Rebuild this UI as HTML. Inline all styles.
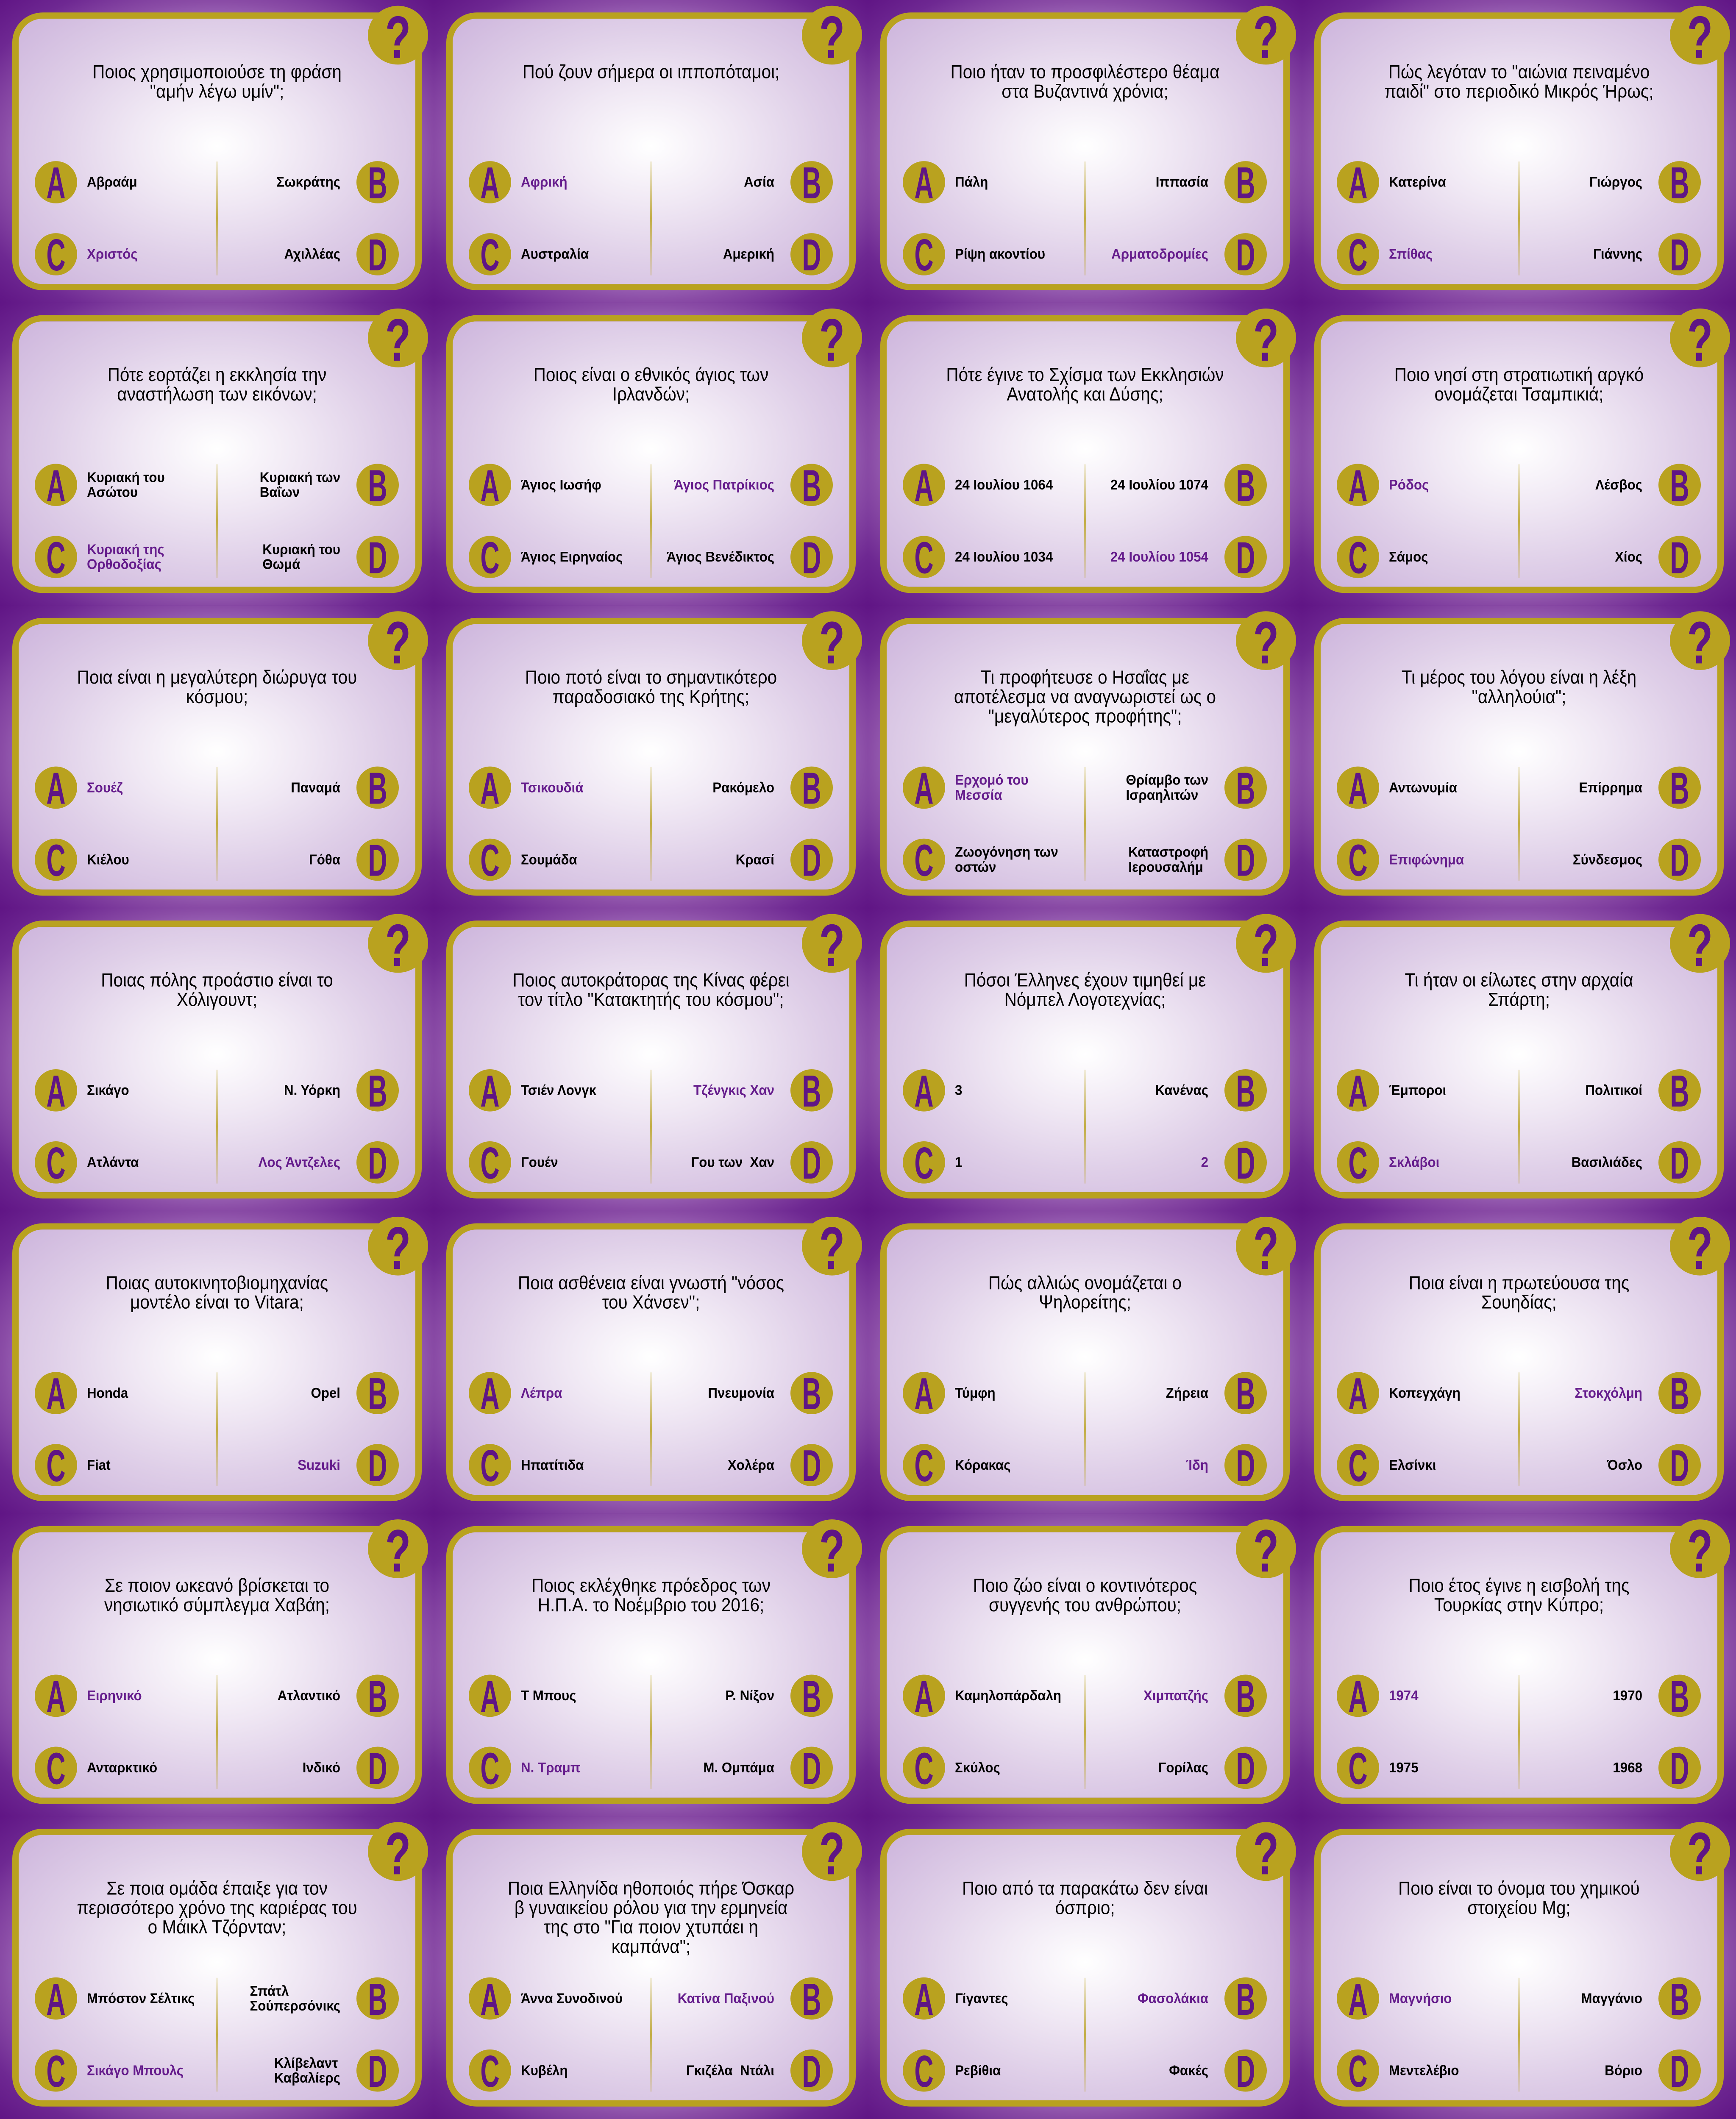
<!DOCTYPE html>
<html><head><meta charset="utf-8">
<style>
html,body{margin:0;padding:0;overflow:hidden;}
body{background:#601585;font-family:"Liberation Sans","DejaVu Sans",sans-serif;}
#stage{position:absolute;left:0;top:0;width:4096px;height:5117px;overflow:hidden;transform-origin:0 0;background:#601585;}
.cell{position:absolute;width:1024px;height:731px;overflow:hidden;
 background:radial-gradient(ellipse farthest-corner at 50% 50%,#ffffff 0%,#d9c3e4 40%,#a06cba 60%,#8a4ca6 70%,#6e2892 85%,#601585 100%);}
.card{position:absolute;left:29px;top:30px;width:936px;height:641px;border:15px solid #b9a21f;border-radius:72px;
 background:radial-gradient(ellipse farthest-corner at 50% 48%,#ffffff 0%,#f0e8f4 30%,#dfcfe8 60%,#cbb2db 100%);}
.qm{position:absolute;left:868px;top:14px;width:142px;height:142px;border-radius:50%;background:#b9a21f;}
.qm span{position:absolute;left:0;width:142px;top:6px;text-align:center;font-weight:bold;font-size:145px;line-height:140px;color:#5f1585;transform:scaleX(0.68);}
.q{position:absolute;left:112px;width:800px;top:150px;text-align:center;font-size:46px;line-height:47px;color:#000;transform:scaleX(0.88);}
.lc{position:absolute;width:100px;height:102px;border-radius:50%;background:#b9a21f;}
.lc span{position:absolute;left:0;top:0;width:100px;height:102px;line-height:106px;text-align:center;font-weight:bold;font-size:108px;color:#5f1585;transform:scaleX(0.58);}
.ans{position:absolute;width:290px;font-weight:bold;font-size:34px;line-height:36px;color:#000;display:flex;align-items:center;height:100px;}
.ans.l{left:205px;justify-content:flex-start;transform-origin:left center;transform:scaleX(0.92);}
.ans.r{left:513px;justify-content:flex-end;transform-origin:right center;transform:scaleX(0.92);}
.ans span{display:inline-block;text-align:left;white-space:pre;}
.ans.ok{color:#651c8c;}
.div{position:absolute;left:510px;top:390px;width:4px;height:275px;background:linear-gradient(to bottom,rgba(185,162,31,0.15),rgba(185,162,31,0.8) 50%,rgba(185,162,31,0.15));}
</style></head>
<body>
<div id="stage"></div>
<script>
var questions=[
"Ποιος χρησιμοποιούσε τη φράση\n\"αμήν λέγω υμίν\";",
"Πού ζουν σήμερα οι ιπποπόταμοι;",
"Ποιο ήταν το προσφιλέστερο θέαμα\nστα Βυζαντινά χρόνια;",
"Πώς λεγόταν το \"αιώνια πειναμένο\nπαιδί\" στο περιοδικό Μικρός Ήρως;",
"Πότε εορτάζει η εκκλησία την\nαναστήλωση των εικόνων;",
"Ποιος είναι ο εθνικός άγιος των\nΙρλανδών;",
"Πότε έγινε το Σχίσμα των Εκκλησιών\nΑνατολής και Δύσης;",
"Ποιο νησί στη στρατιωτική αργκό\nονομάζεται Τσαμπικιά;",
"Ποια είναι η μεγαλύτερη διώρυγα του\nκόσμου;",
"Ποιο ποτό είναι το σημαντικότερο\nπαραδοσιακό της Κρήτης;",
"Τι προφήτευσε ο Ησαΐας με\nαποτέλεσμα να αναγνωριστεί ως ο\n\"μεγαλύτερος προφήτης\";",
"Τι μέρος του λόγου είναι η λέξη\n\"αλληλούια\";",
"Ποιας πόλης προάστιο είναι το\nΧόλιγουντ;",
"Ποιος αυτοκράτορας της Κίνας φέρει\nτον τίτλο \"Κατακτητής του κόσμου\";",
"Πόσοι Έλληνες έχουν τιμηθεί με\nΝόμπελ Λογοτεχνίας;",
"Τι ήταν οι είλωτες στην αρχαία\nΣπάρτη;",
"Ποιας αυτοκινητοβιομηχανίας\nμοντέλο είναι το Vitara;",
"Ποια ασθένεια είναι γνωστή \"νόσος\nτου Χάνσεν\";",
"Πώς αλλιώς ονομάζεται ο\nΨηλορείτης;",
"Ποια είναι η πρωτεύουσα της\nΣουηδίας;",
"Σε ποιον ωκεανό βρίσκεται το\nνησιωτικό σύμπλεγμα Χαβάη;",
"Ποιος εκλέχθηκε πρόεδρος των\nΗ.Π.Α. το Νοέμβριο του 2016;",
"Ποιο ζώο είναι ο κοντινότερος\nσυγγενής του ανθρώπου;",
"Ποιο έτος έγινε η εισβολή της\nΤουρκίας στην Κύπρο;",
"Σε ποια ομάδα έπαιξε για τον\nπερισσότερο χρόνο της καριέρας του\nο Μάικλ Τζόρνταν;",
"Ποια Ελληνίδα ηθοποιός πήρε Όσκαρ\nβ γυναικείου ρόλου για την ερμηνεία\nτης στο  \"Για ποιον χτυπάει η\nκαμπάνα\";",
"Ποιο από τα παρακάτω δεν είναι\nόσπριο;",
"Ποιο είναι το όνομα του χημικού\nστοιχείου Mg;"];
var answers=[
["Αβραάμ","Σωκράτης","Χριστός","Αχιλλέας"],
["Αφρική","Ασία","Αυστραλία","Αμερική"],
["Πάλη","Ιππασία","Ρίψη ακοντίου","Αρματοδρομίες"],
["Κατερίνα","Γιώργος","Σπίθας","Γιάννης"],
["Κυριακή του\nΑσώτου","Κυριακή των\nΒαΐων","Κυριακή της\nΟρθοδοξίας","Κυριακή του\nΘωμά"],
["Άγιος Ιωσήφ","Άγιος Πατρίκιος","Άγιος Ειρηναίος","Άγιος Βενέδικτος"],
["24 Ιουλίου 1064","24 Ιουλίου 1074","24 Ιουλίου 1034","24 Ιουλίου 1054"],
["Ρόδος","Λέσβος","Σάμος","Χίος"],
["Σουέζ","Παναμά","Κιέλου","Γόθα"],
["Τσικουδιά","Ρακόμελο","Σουμάδα","Κρασί"],
["Ερχομό του\nΜεσσία","Θρίαμβο των\nΙσραηλιτών","Ζωογόνηση των\nοστών","Καταστροφή\nΙερουσαλήμ"],
["Αντωνυμία","Επίρρημα","Επιφώνημα","Σύνδεσμος"],
["Σικάγο","Ν. Υόρκη","Ατλάντα","Λος Άντζελες"],
["Τσιέν Λονγκ","Τζένγκις Χαν","Γουέν","Γου των  Χαν"],
["3","Κανένας","1","2"],
["Έμποροι","Πολιτικοί","Σκλάβοι","Βασιλιάδες"],
["Honda","Opel","Fiat","Suzuki"],
["Λέπρα","Πνευμονία","Ηπατίτιδα","Χολέρα"],
["Τύμφη","Ζήρεια","Κόρακας","Ίδη"],
["Κοπεγχάγη","Στοκχόλμη","Ελσίνκι","Όσλο"],
["Ειρηνικό","Ατλαντικό","Ανταρκτικό","Ινδικό"],
["Τ Μπους","Ρ. Νίξον","Ν. Τραμπ","Μ. Ομπάμα"],
["Καμηλοπάρδαλη","Χιμπατζής","Σκύλος","Γορίλας"],
["1974","1970","1975","1968"],
["Μπόστον Σέλτικς","Σπάτλ\nΣούπερσόνικς","Σικάγο Μπουλς","Κλίβελαντ\nΚαβαλίερς"],
["Άννα Συνοδινού","Κατίνα Παξινού","Κυβέλη","Γκιζέλα  Ντάλι"],
["Γίγαντες","Φασολάκια","Ρεβίθια","Φακές"],
["Μαγνήσιο","Μαγγάνιο","Μεντελέβιο","Βόριο"]];
var correct=[2,0,3,2, 2,1,3,0, 0,0,0,2, 3,1,3,2, 3,0,3,1, 0,2,1,0, 2,1,1,0];
var letters=["A","B","C","D"];

(function(){
  var stage=document.getElementById('stage');
  for(var i=0;i<questions.length;i++){
    var col=i%4,row=Math.floor(i/4);
    var cell=document.createElement('div');
    cell.className='cell';
    cell.style.left=(col*1024)+'px';
    cell.style.top=(row*731)+'px';
    
    
    var card=document.createElement('div');
    card.className='card';
    
    
    cell.appendChild(card);
    var qm=document.createElement('div');
    qm.className='qm';
    
    
    var qs=document.createElement('span');qs.textContent='?';qm.appendChild(qs);
    cell.appendChild(qm);
    var q=document.createElement('div');
    q.className='q';
    
    
    q.innerHTML=questions[i].split('\n').map(function(s){return s.replace(/&/g,'&amp;').replace(/</g,'&lt;');}).join('<br>');
    cell.appendChild(q);
    var dv=document.createElement('div');
    dv.className='div';
    
    
    cell.appendChild(dv);
    for(var k=0;k<4;k++){
      var right=(k%2==1), bottom=(k>=2);
      var cy=bottom?614:440;
      var lc=document.createElement('div');
      lc.className='lc';
      lc.style.left=(right?841:82)+'px';
      lc.style.top=(cy-51)+'px';
      
      
      var ls=document.createElement('span');ls.textContent=letters[k];lc.appendChild(ls);
      cell.appendChild(lc);
      var an=document.createElement('div');
      an.className='ans '+(right?'r':'l')+(correct[i]==k?' ok':'');
      an.style.top=(cy-50)+'px';
      
      
      var sp=document.createElement('span');sp.textContent=answers[i][k];an.appendChild(sp);
      cell.appendChild(an);
    }
    stage.appendChild(cell);
  }
  function fit(){
    var w=window.innerWidth||4096, h=window.innerHeight||5117;
    var sx=w/4096, sy=h/5117;
    if(Math.abs(sx-1)<0.001&&Math.abs(sy-1)<0.001){stage.style.transform='none';}
    else{stage.style.transform='scale('+sx+','+sy+')';}
    document.body.style.width=w+'px';
    document.body.style.height=h+'px';
  }
  fit();
  window.addEventListener('resize',fit);
})();
</script>
</body></html>
